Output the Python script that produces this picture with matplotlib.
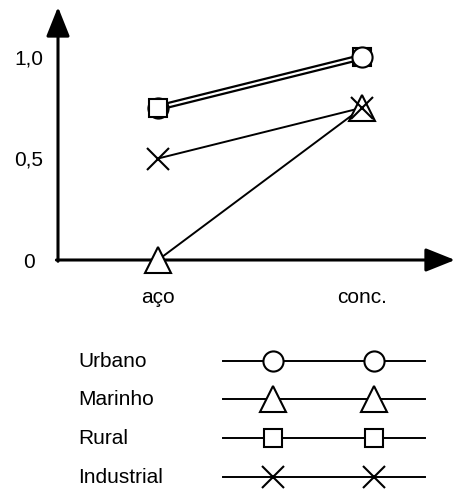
import matplotlib.pyplot as plt
import matplotlib.patheffects as pe

plt.rcParams['font.family'] = ['Liberation Sans', 'DejaVu Sans']

# data
categories = ['aço', 'conc.']
series = ['Urbano', 'Marinho', 'Rural', 'Industrial']
urbano = [0.75, 1.0]
marinho = [0.0, 0.75]
rural = [0.75, 1.0]
industrial = [0.5, 0.75]
yticks = [0, 0.5, 1.0]
ytick_labels = ['0', '0,5', '1,0']

values = {'Urbano': urbano, 'Marinho': marinho, 'Rural': rural, 'Industrial': industrial}
markers = {'Urbano': ('o', 14.5), 'Marinho': ('^', 19), 'Rural': ('s', 13.5), 'Industrial': ('x', 16)}

W, H = 455, 490
fig = plt.figure(figsize=(W / 100, H / 100), dpi=100)

# legend area in pixel coordinates
lax = fig.add_axes([0, 0, 1, 1])
lax.set_xlim(0, W)
lax.set_ylim(H, 0)
lax.axis('off')

# main axes: y axis at x=58px, x axis at y=260px
ax = fig.add_axes([58 / W, (H - 260) / H, (W - 58) / W, (260 - 7) / H])
ax.set_xlim((58 - 158) / 204, (W - 158) / 204)
ax.set_ylim(0, (260 - 7) / 203)
for s in ax.spines.values():
    s.set_visible(False)

x = list(range(len(categories)))
LW = 1.4

def mstyle(name):
    m, ms = markers[name]
    if m == 'x':
        return dict(marker=m, ms=ms, mew=1.5, color='k')
    return dict(marker=m, ms=ms, mew=1.5, mfc='white', mec='k')

# lines
ax.plot(x, rural, color='k', lw=LW, zorder=2)
ax.plot(x, urbano, color='k', lw=LW, zorder=2,
        path_effects=[pe.Stroke(linewidth=4.8, foreground='k'),
                      pe.Stroke(linewidth=1.6, foreground='white')])
ax.plot(x, marinho, color='k', lw=LW, zorder=2)
ax.plot(x, industrial, color='k', lw=LW, zorder=2)

# markers, drawing order per category (square on top at aço, circle at conc.)
draw_order = [['Urbano', 'Rural', 'Marinho', 'Industrial'],
              ['Rural', 'Urbano', 'Marinho', 'Industrial']]
for i, order in enumerate(draw_order):
    for z, name in enumerate(order):
        ax.plot(x[i], values[name][i], linestyle='none', zorder=5 + z,
                clip_on=False, **mstyle(name))

# axes with arrows
arrow = dict(arrowstyle='-|>,head_length=0.9,head_width=0.36', lw=2.2,
             color='k', shrinkA=0, shrinkB=0, mutation_scale=20)
ax.annotate('', xy=(0, 1), xytext=(0, -0.005), xycoords='axes fraction', arrowprops=arrow)
ax.annotate('', xy=(1, 0), xytext=(-0.004, 0), xycoords='axes fraction', arrowprops=arrow)

ax.set_xticks(x)
ax.set_xticklabels(categories, fontsize=15)
ax.set_yticks(yticks)
ax.set_yticklabels(ytick_labels, fontsize=15, ha='center')
ax.tick_params(axis='x', length=0, pad=20)
ax.tick_params(axis='y', length=0, pad=21)

# legend
rows = [361, 399, 438, 477]
for name, yy in zip(series, rows):
    lax.text(78, yy, name, fontsize=15, ha='left', va='center')
    lax.plot([223, 425], [yy, yy], color='k', lw=LW)
    lax.plot([273, 374], [yy, yy], linestyle='none', **mstyle(name))

fig.savefig('out.png', dpi=100)
